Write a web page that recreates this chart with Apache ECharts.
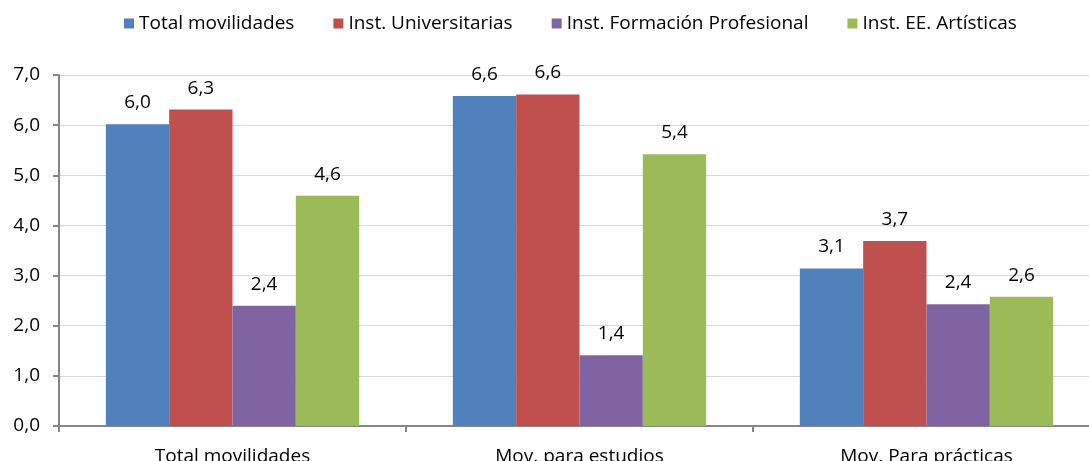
<!DOCTYPE html>
<html><head><meta charset="utf-8">
<script src="https://cdn.jsdelivr.net/npm/echarts@6/dist/echarts.min.js"></script>
<style>html,body{margin:0;padding:0;background:#fff;overflow:hidden}#c{width:1100px;height:461px}</style>
</head><body><div id="c"></div>
<script>
const categories = ["Total movilidades", "Mov. para estudios", "Mov. Para prácticas"];
const seriesNames = ["Total movilidades", "Inst. Universitarias", "Inst. Formación Profesional", "Inst. EE. Artísticas"];
const totalMovilidades = [6.02, 6.58, 3.14];
const instUniversitarias = [6.31, 6.61, 3.69];
const instFP = [2.40, 1.41, 2.43];
const instArtisticas = [4.59, 5.42, 2.58];
const yTicks = [0, 1, 2, 3, 4, 5, 6, 7];

const colors = ["#4f81bd", "#c0504d", "#8064a2", "#9bbb59"];
const values = [totalMovilidades, instUniversitarias, instFP, instArtisticas];
const FONT = "Open Sans";
const FS = 19;
const chart = echarts.init(document.getElementById('c'), null, {renderer: 'canvas'});
chart.setOption({
  animation: false,
  textStyle: {fontFamily: FONT},
  color: colors,
  legend: {
    top: 9, left: 119,
    itemWidth: 10, itemHeight: 10, itemGap: 39,
    icon: 'rect',
    textStyle: {fontSize: FS, color: '#000', fontFamily: FONT},
    data: seriesNames
  },
  grid: {left: 59, top: 75, right: 0, bottom: 35, containLabel: false, outerBoundsMode: 'none'},
  xAxis: {
    type: 'category', data: categories,
    axisLine: {lineStyle: {color: '#868686', width: 2}},
    axisTick: {show: true, length: 6, lineStyle: {color: '#868686', width: 2}},
    axisLabel: {fontSize: FS, color: '#000', margin: 21, fontFamily: FONT}
  },
  yAxis: {
    type: 'value', min: 0, max: 7, interval: 1,
    axisLine: {show: true, lineStyle: {color: '#868686', width: 2}},
    axisTick: {show: true, length: 6, lineStyle: {color: '#868686', width: 2}},
    splitLine: {lineStyle: {color: '#d9d9d9', width: 1}},
    axisLabel: {fontSize: FS, color: '#000', margin: 19, fontFamily: FONT,
      formatter: v => v.toFixed(1).replace('.', ',')}
  },
  series: seriesNames.map((n, i) => ({
    name: n, type: 'bar', data: values[i],
    barGap: '0%', barCategoryGap: '27%',
    itemStyle: {color: colors[i]},
    label: {show: true, position: 'top', distance: 12, fontSize: FS, color: '#000', fontFamily: FONT,
      formatter: p => p.value.toFixed(1).replace('.', ',')}
  }))
});
</script></body></html>
